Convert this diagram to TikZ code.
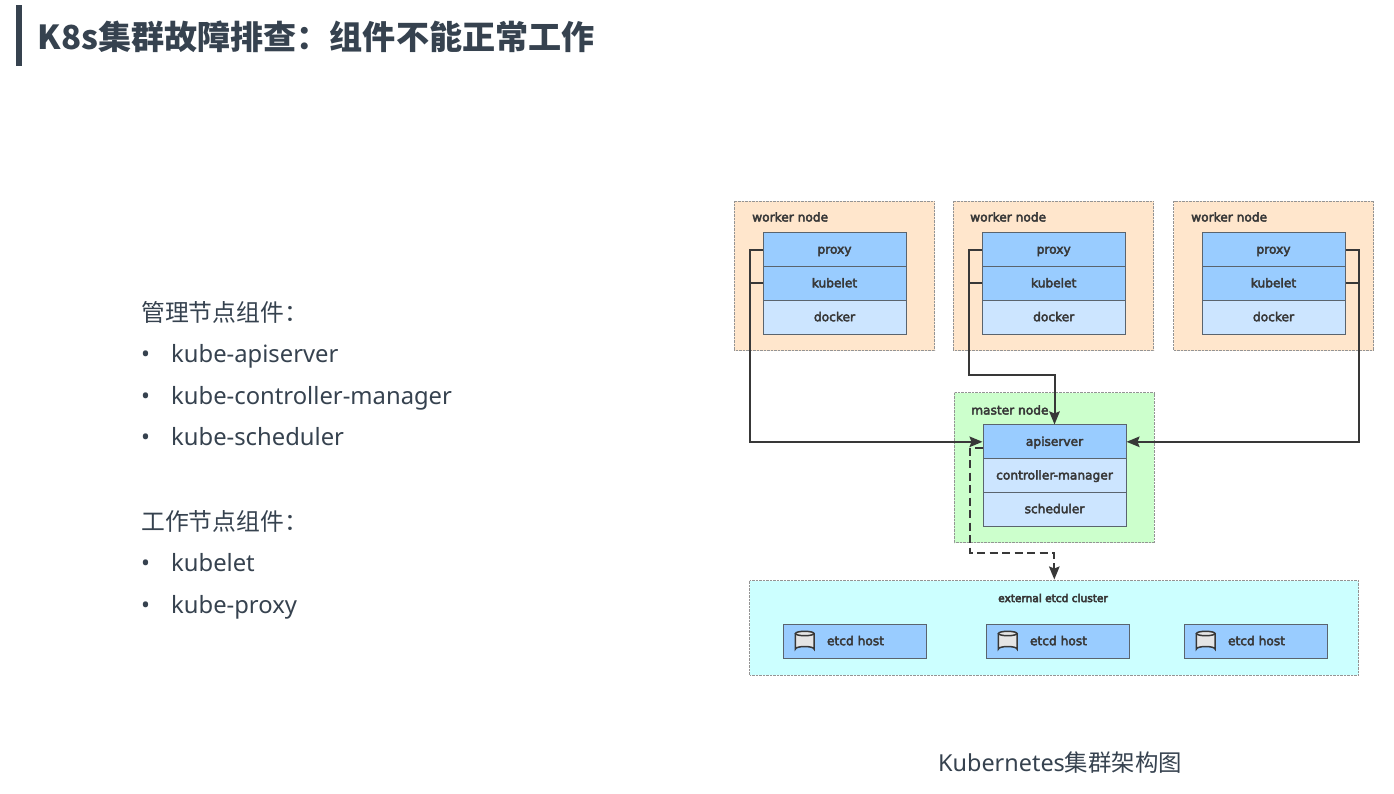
\documentclass[tikz,border=0pt]{standalone}
\usepackage{fontspec}
\setmainfont{Noto Sans}
\newfontfamily\cjk{Noto Sans CJK SC}
\newfontfamily\dia[FakeBold=3.5]{DejaVu Sans}
\newfontfamily\diabold[FakeBold=5]{DejaVu Sans}
\usetikzlibrary{arrows.meta,calc}
\definecolor{ink}{HTML}{36424F}
\definecolor{lineink}{HTML}{383838}
\definecolor{cellline}{HTML}{5A646E}
\definecolor{peach}{HTML}{FFE6CC}
\definecolor{blueA}{HTML}{99CCFF}
\definecolor{blueB}{HTML}{CCE5FF}
\definecolor{mint}{HTML}{CCFFCC}
\definecolor{aqua}{HTML}{CCFFFF}
\tikzset{
  panel/.style={draw=black!42,line width=.6pt,dash pattern=on .7pt off .7pt},
  cell/.style={draw=cellline,line width=1pt,minimum width=143pt,minimum height=33.7pt,inner sep=0,text height=10pt,text depth=2pt,text=lineink,font=\dia\fontsize{12.2}{14}\selectfont},
  darkcell/.style={cell,fill=blueA},
  palecell/.style={cell,fill=blueB},
  hostbox/.style={darkcell,minimum height=33.7pt,minimum width=143.5pt},
  paneltitle/.style={text=lineink,font=\dia\fontsize{12.2}{14}\selectfont,anchor=base west,inner sep=0},
  body/.style={text=ink,anchor=base west,inner sep=0,font=\fontsize{23.8}{28}\selectfont},
  bulletmark/.style={text=ink,inner sep=0,anchor=base,font=\fontsize{23.8}{28}\selectfont},
  wire/.style={draw=lineink,line width=2pt},
  arrowwire/.style={wire,-{Stealth[length=13pt,width=10.5pt,inset=2pt]}}
}
\newcommand{\drum}[2]{%
  \draw[fill=black!10,draw=lineink,line width=1.5pt] (#1-9.3,#2-8) -- (#1-9.3,#2+7.5) arc[x radius=9.3,y radius=2.5,start angle=180,end angle=360] -- (#1+9.3,#2-8);
  \draw[fill=black!10,draw=lineink,line width=1.5pt] (#1,#2-8) ellipse[x radius=9.3,y radius=2.2];
}
\begin{document}
\begin{tikzpicture}[x=1pt,y=-1pt]
\useasboundingbox (0,0) rectangle (1394,793);
\fill[white] (0,0) rectangle (1394,793);

\fill[fill=ink] (16,5) rectangle (22,66);
\node[anchor=west,inner sep=0,text=ink] (title) at (37.5,37) {\cjk\bfseries\fontsize{33.1}{38}\selectfont K8s集群故障排查：组件不能正常工作};

\node[body] (t1) at (141,321.5) {\cjk 管理节点组件：};
\node[bulletmark] (b1) at (145.5,362.5) {•}; \node[body] (l1) at (171,362.5) {kube-apiserver};
\node[bulletmark] (b2) at (145.5,404.5) {•}; \node[body] (l2) at (171,404.5) {kube-controller-manager};
\node[bulletmark] (b3) at (145.5,445.5) {•}; \node[body] (l3) at (171,445.5) {kube-scheduler};
\node[body] (t2) at (141,530.5) {\cjk 工作节点组件：};
\node[bulletmark] (b4) at (145.5,571.5) {•}; \node[body] (l4) at (171,571.5) {kubelet};
\node[bulletmark] (b5) at (145.5,613.5) {•}; \node[body] (l5) at (171,613.5) {kube-proxy};
\node[body,font=\fontsize{23.4}{28}\selectfont] (caption) at (938,771) {Kubernetes{\cjk 集群架构图}};

% panels
\fill[peach] (734,201) rectangle (934.5,350.5); \draw[panel] (734,201) rectangle (934.5,350.5);
\fill[peach] (953,201) rectangle (1153.5,350.5); \draw[panel] (953,201) rectangle (1153.5,350.5);
\fill[peach] (1173.5,201) rectangle (1373.5,350.5); \draw[panel] (1173.5,201) rectangle (1373.5,350.5);
\fill[mint] (954.3,392.7) rectangle (1154.3,542.7); \draw[panel] (954.3,392.7) rectangle (1154.3,542.7);
\fill[aqua] (749.5,580.5) rectangle (1358.5,675); \draw[panel] (749.5,580.5) rectangle (1358.5,675);

\node[paneltitle] (c1) at (752,221.5) {worker node};
\node[paneltitle] (c2) at (970,221.5) {worker node};
\node[paneltitle] (c3) at (1191,221.5) {worker node};
\node[paneltitle] (c4) at (971,414.5) {master node};
\node[paneltitle,font=\diabold\fontsize{10.6}{12}\selectfont] (c5) at (998,602) {external etcd cluster};

% stacks
\foreach \n/\x in {a/834.5,b/1053.7,c/1273.5}{
  \node[darkcell] (p\n) at (\x,249.6) {proxy};
  \node[darkcell] (k\n) at (\x,283.3) {kubelet};
  \node[palecell] (d\n) at (\x,317.2) {docker};
}
\node[darkcell] (api) at (1054.5,441.8) {apiserver};
\node[palecell] (cm) at (1054.5,475.5) {controller-manager};
\node[palecell] (sch) at (1054.5,509.2) {scheduler};

% etcd hosts
\node[hostbox] (h1) at (855,641.2) {\hspace*{1pt}etcd host};
\node[hostbox] (h2) at (1058,641.2) {\hspace*{1pt}etcd host};
\node[hostbox] (h3) at (1256,641.2) {\hspace*{1pt}etcd host};
\drum{804.7}{641.5}
\drum{1007.7}{641.5}
\drum{1205.7}{641.5}

% routing points
\coordinate (ra) at (749.5,249.6);
\coordinate (rb) at (968.7,249.6);
\coordinate (rbb) at (968.7,375.3);
\coordinate (rc) at (1358.7,249.6);
\coordinate (dsA) at (970,447.7);
\coordinate (dsB) at (970,553);
\coordinate (dsC) at (1054.3,553);
\coordinate (etcdTop) at (1054.3,579.5);

\draw[arrowwire] (pa.west) -- (ra) |- (api.west);
\draw[wire] (ka.west) -- (ra |- ka.west);
\draw[arrowwire] (pb.west) -- (rb) -- (rbb) -| (api.north);
\draw[wire] (kb.west) -- (rb |- kb.west);
\draw[arrowwire] (pc.east) -- (rc) |- (api.east);
\draw[wire] (kc.east) -- (rc |- kc.east);
\draw[arrowwire,dash pattern=on 8pt off 4.5pt] (api.west |- dsA) -- (dsA) -- (dsB) -- (dsC) -- (etcdTop);
\end{tikzpicture}
\end{document}
